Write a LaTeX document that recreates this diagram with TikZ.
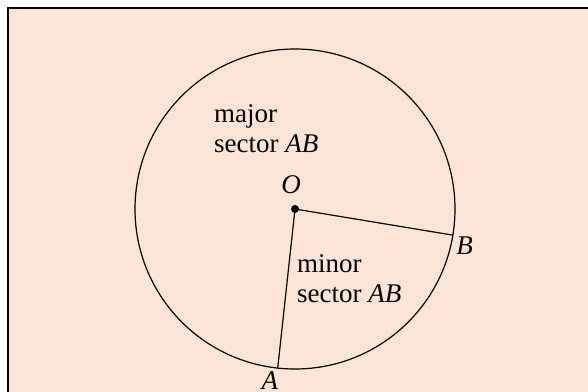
\documentclass[tikz,border=0pt]{standalone}
\usepackage{fontspec}
\setmainfont{Liberation Serif}
\usepackage{tikz}
\usetikzlibrary{positioning}
\definecolor{peach}{RGB}{252,228,214}

\begin{document}
\begin{tikzpicture}[x=1pt, y=-1pt,
      ln/.style={draw=black, line width=1.2pt},
      lb/.style={font=\fontsize{27}{30}\selectfont, inner sep=0pt, align=left},
      dot/.style={circle, fill=black, minimum size=8pt, inner sep=0pt}]
    \useasboundingbox (0,0) rectangle (588,391);
    % page and frame
    \fill[white] (0,0) rectangle (588,391);
    \begin{scope}
      \clip (0,0) rectangle (588,391);
      \draw[line width=2.5pt, fill=peach] (8,8) rectangle (610,410);
    \end{scope}
    % circle and radii
    \node[dot] (O) at (295,209) {};
    \draw[ln] (O.center) circle (160pt);
    \coordinate (A) at ([shift={(96.2:160)}]O.center);
    \coordinate (B) at ([shift={(9.4:160)}]O.center);
    \draw[ln] (A) -- (O.center) -- (B);
    % labels
    \node[lb] (lO) at (291,185) {\textit{O}};
    \node[lb] (lB) at (464.5,245.5) {\textit{B}};
    \node[lb] (lA) at (270,381) {\textit{A}};
    \node[lb, anchor=base west] (mj) at (214,152) {major\\sector \textit{AB}};
    \node[lb, anchor=base west] (mn) at (297,302) {minor\\sector \textit{AB}};
  \end{tikzpicture}
\end{document}
